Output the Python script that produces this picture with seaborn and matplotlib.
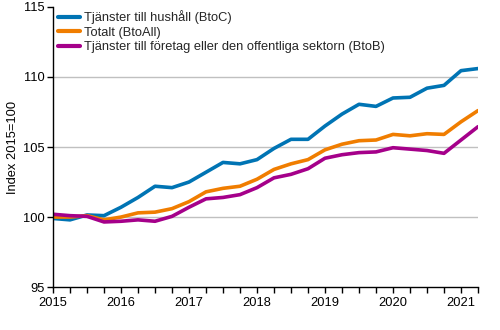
import numpy as np
import pandas as pd
import matplotlib
matplotlib.use("Agg")
import matplotlib.pyplot as plt
import seaborn as sns
from matplotlib.ticker import MultipleLocator

quarters = [2015 + i * 0.25 for i in range(26)]

btoc = [99.9, 99.8, 100.15, 100.1, 100.7, 101.4, 102.2, 102.1, 102.5, 103.2, 103.9, 103.8,
        104.1, 104.9, 105.55, 105.55, 106.5, 107.35, 108.05, 107.9, 108.5, 108.55, 109.2, 109.4,
        110.45, 110.6]
btoall = [100.0, 100.0, 100.1, 99.8, 100.0, 100.3, 100.35, 100.6, 101.1, 101.8, 102.05, 102.2,
          102.7, 103.4, 103.8, 104.1, 104.8, 105.2, 105.45, 105.5, 105.9, 105.8, 105.95, 105.9,
          106.8, 107.6]
btob = [100.2, 100.1, 100.05, 99.65, 99.7, 99.8, 99.7, 100.05, 100.7, 101.3, 101.4, 101.6,
        102.1, 102.8, 103.05, 103.45, 104.2, 104.45, 104.6, 104.65, 104.95, 104.85, 104.75, 104.55,
        105.5, 106.45]

series_names = ["Tjänster till hushåll (BtoC)", "Totalt (BtoAll)",
                "Tjänster till företag eller den offentliga sektorn (BtoB)"]
colors = ["#0074b4", "#f07d00", "#a5008a"]
year_ticks = [2015, 2016, 2017, 2018, 2019, 2020, 2021]
y_ticks = [95, 100, 105, 110, 115]

df = pd.DataFrame({
    "x": quarters * 3,
    "value": btoc + btoall + btob,
    "series": [series_names[0]] * 26 + [series_names[1]] * 26 + [series_names[2]] * 26,
})

FS = 9.3
sns.set_theme(style="white")
plt.rcParams["font.family"] = ["Liberation Sans", "DejaVu Sans"]
plt.rcParams["font.size"] = FS

fig = plt.figure(figsize=(5, 3.3), dpi=100)
ax = fig.add_axes([0.106, 0.130, 0.850, 0.849])

for yv in [100, 105, 110]:
    ax.axhline(yv, color="#c0c0c0", lw=1, zorder=0)

sns.lineplot(data=df, x="x", y="value", hue="series", palette=colors,
             linewidth=2.6, ax=ax, legend=True)

ax.set_xlim(2015, 2021.25)
ax.set_ylim(95, 115)
ax.set_xticks(year_ticks)
ax.set_xticklabels([str(y) for y in year_ticks])
ax.xaxis.set_minor_locator(MultipleLocator(0.25))
ax.set_yticks(y_ticks)
ax.tick_params(axis="both", which="both", direction="out", length=4, width=1,
               color="black", labelsize=FS, labelcolor="black", bottom=True, left=True)
ax.tick_params(axis="x", which="major", pad=3)
ax.tick_params(axis="y", which="major", pad=2)
for s in ["top", "right"]:
    ax.spines[s].set_visible(False)
for s in ["left", "bottom"]:
    ax.spines[s].set_color("black")
    ax.spines[s].set_linewidth(1)
ax.set_xlabel("")
ax.set_ylabel("Index 2015=100", fontsize=FS, color="black", labelpad=3)

leg = ax.legend(loc="upper left", bbox_to_anchor=(0.0, 1.007), frameon=False,
                fontsize=FS, handlelength=1.7, handletextpad=0.31, labelspacing=0.2,
                borderaxespad=0.0)
for line in leg.get_lines():
    line.set_linewidth(3)

fig.savefig("out.png", dpi=100)
